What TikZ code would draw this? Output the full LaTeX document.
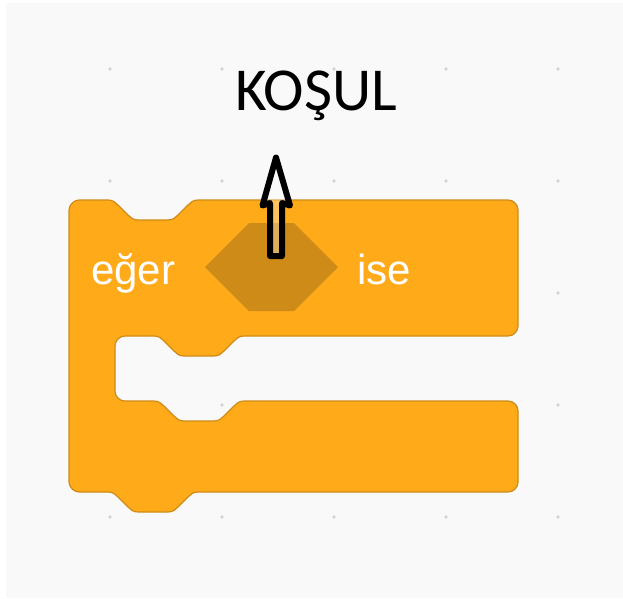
\documentclass[tikz,border=0pt]{standalone}
\usepackage{fontspec}
\newfontfamily\blockfont{Liberation Sans}
\newfontfamily\labelfont{Carlito}
\definecolor{canvas}{HTML}{F9F9F9}
\definecolor{ctrlfill}{HTML}{FFAB19}
\definecolor{ctrlline}{HTML}{CF8B17}
\definecolor{slotfill}{HTML}{CF8B17}
\definecolor{griddot}{HTML}{D4D4D4}
% notch of a Scratch block: start x, edge y, direction (+1 right, -1 left)
\newcommand{\ns}{2.5}
\newcommand{\notchrun}[3]{%
  .. controls ({#1+(#3)*2*\ns},{#2}) and ({#1+(#3)*3*\ns},{#2+1*\ns}) .. ({#1+(#3)*4*\ns},{#2+2*\ns})
  -- ({#1+(#3)*8*\ns},{#2+6*\ns})
  .. controls ({#1+(#3)*9*\ns},{#2+7*\ns}) and ({#1+(#3)*10*\ns},{#2+8*\ns}) .. ({#1+(#3)*12*\ns},{#2+8*\ns})
  -- ({#1+(#3)*24*\ns},{#2+8*\ns})
  .. controls ({#1+(#3)*26*\ns},{#2+8*\ns}) and ({#1+(#3)*27*\ns},{#2+7*\ns}) .. ({#1+(#3)*28*\ns},{#2+6*\ns})
  -- ({#1+(#3)*32*\ns},{#2+2*\ns})
  .. controls ({#1+(#3)*33*\ns},{#2+1*\ns}) and ({#1+(#3)*34*\ns},{#2}) .. ({#1+(#3)*36*\ns},{#2})}
\begin{document}
\begin{tikzpicture}[x=1pt,y=-1pt,
    blockshape/.style={fill=ctrlfill,draw=ctrlline,line width=1.2pt,line join=round},
    slotshape/.style={fill=slotfill},
    blocktext/.style={font=\blockfont\fontsize{42}{42}\selectfont,text=white,inner sep=0pt,anchor=base west},
    labeltext/.style={font=\labelfont\fontsize{61}{61}\selectfont,text=black,inner sep=0pt,anchor=base},
    hollowarrow/.style={draw=black,line width=6pt,line join=round,fill=white,fill opacity=0.3}]
  % canvas
  \fill[white] (0,0) rectangle (623,598);
  \fill[canvas] (6,3) rectangle (623,598);
  \useasboundingbox (0,0) rectangle (623,598);
  % workspace grid dots
  \foreach \gx in {110,222,334,446,558}
    \foreach \gy in {69,181,293,405,517}
      \fill[griddot] (\gx,\gy) circle[radius=1.8];
  % the "if" C-block
  \path[blockshape] (69,210)
    .. controls (69,204.48) and (74.48,200) .. (79,200)
    -- (108,200) \notchrun{108}{200}{1}
    -- (508,200)
    .. controls (513.52,200) and (518,204.48) .. (518,210)
    -- (518,326)
    .. controls (518,331.52) and (513.52,336) .. (508,336)
    -- (244,336) \notchrun{244}{336}{-1}
    -- (125,336)
    .. controls (119.48,336) and (115,340.48) .. (115,346)
    -- (115,391)
    .. controls (115,396.52) and (119.48,401) .. (125,401)
    -- (154,401) \notchrun{154}{401}{1}
    -- (508,401)
    .. controls (513.52,401) and (518,405.48) .. (518,411)
    -- (518,482)
    .. controls (518,487.52) and (513.52,492) .. (508,492)
    -- (198,492) \notchrun{198}{492}{-1}
    -- (79,492)
    .. controls (74.48,492) and (69,487.52) .. (69,482)
    -- cycle;
  % empty boolean slot
  \path[slotshape] (205,267) -- (249,223) -- (294,223) -- (338,267) -- (294,311) -- (249,311) -- cycle;
  \coordinate (cond) at (271.5,267);
  % block labels
  \node[blocktext] (eger) at (91,284) {eğer};
  \node[blocktext] (ise) at (357,284) {ise};
  % caption pointing at the slot
  \node[labeltext] (kosul) at (316,110) {KOŞUL};
  \coordinate (tail) at (276,256);
  \coordinate (tip) at (276,157.5);
  \path[hollowarrow] (tail) ++(-6,0) -- ++(0,-53) -- ++(-7.5,2.5) -- (tip)
    -- ++(14,48) -- ++(-8,-2.5) -- ++(0,53) -- cycle;
\end{tikzpicture}
\end{document}
